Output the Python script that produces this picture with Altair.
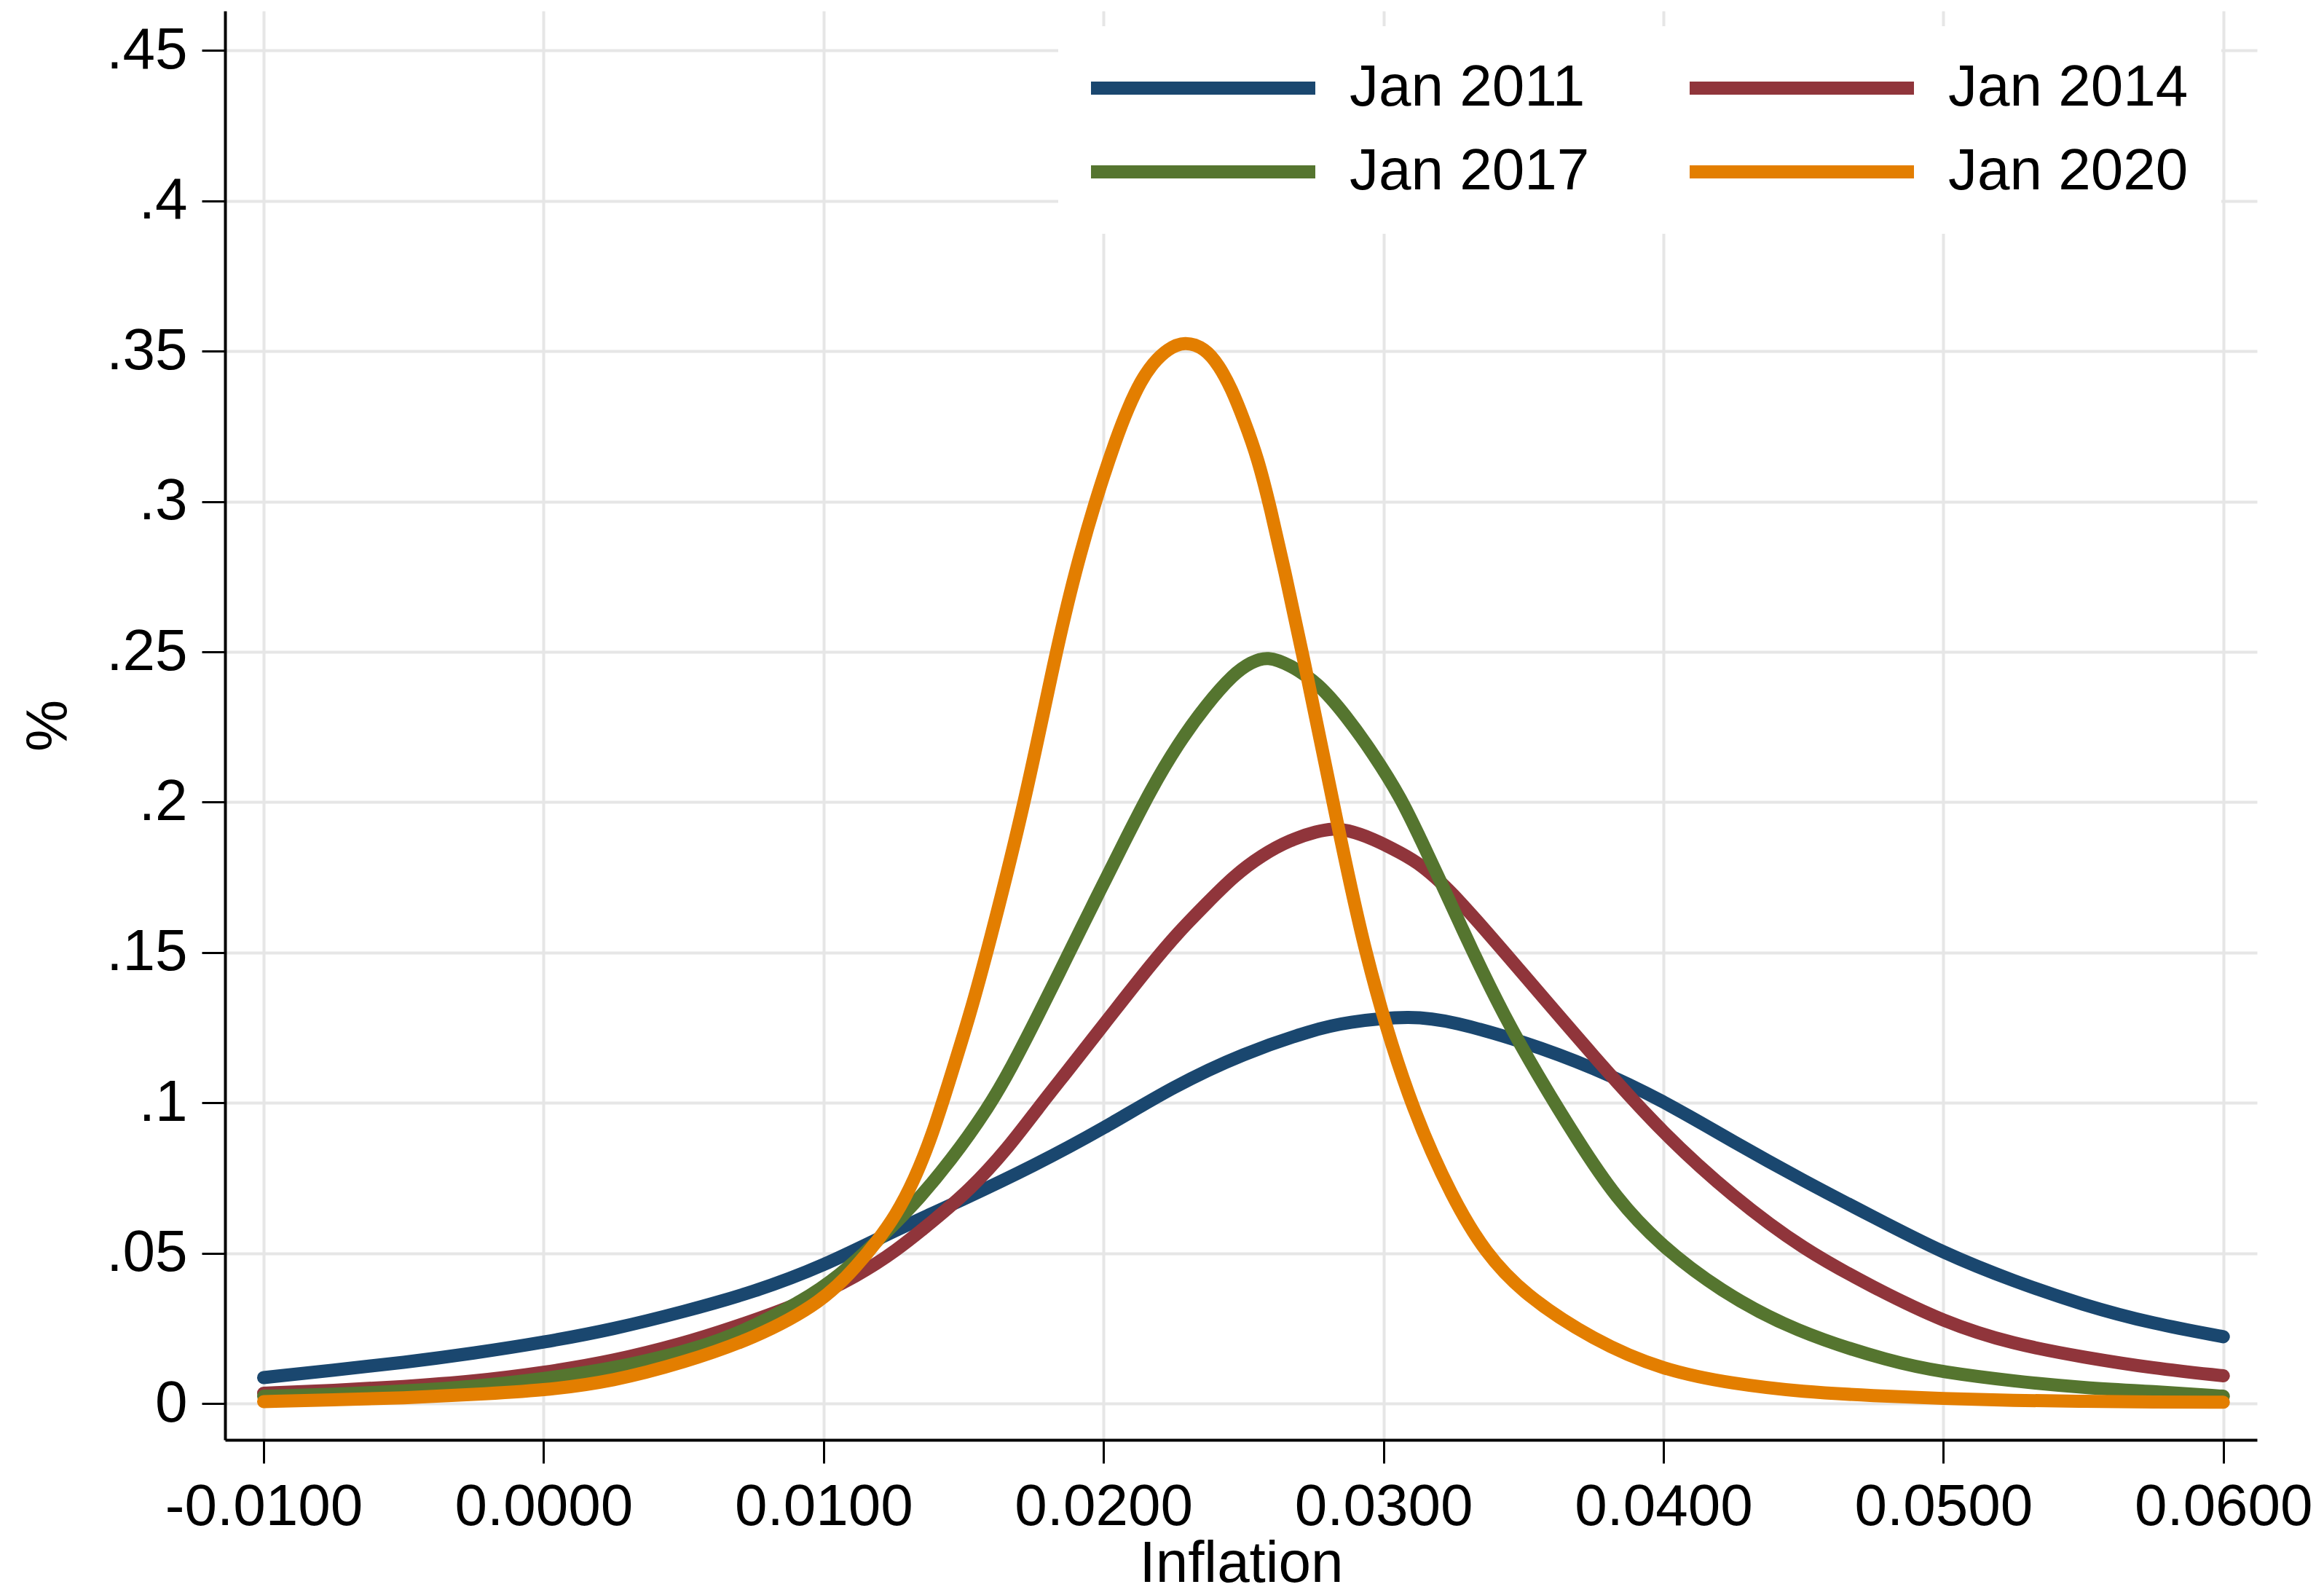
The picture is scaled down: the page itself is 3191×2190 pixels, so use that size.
import altair as alt
import pandas as pd

# ---- data (inflation, density) ----
x_2011 = [-0.01, -0.0075, -0.005, -0.0025, 0.0, 0.0025, 0.005, 0.0075, 0.01, 0.0125,
          0.015, 0.0175, 0.02, 0.0225, 0.025, 0.0275, 0.02865, 0.031, 0.0325, 0.035, 0.0375,
          0.04, 0.0425, 0.045, 0.0475, 0.05, 0.0525, 0.055, 0.0575, 0.06]
y_2011 = [0.0086, 0.0111, 0.0136, 0.0167, 0.0203, 0.0247, 0.0305, 0.0370, 0.0457, 0.0574,
          0.0679, 0.0790, 0.0914, 0.1055, 0.1165, 0.1243, 0.1268, 0.1291, 0.1270, 0.1204, 0.1118,
          0.1007, 0.0870, 0.0741, 0.0620, 0.0500, 0.0407, 0.0327, 0.0265, 0.0222]

x_2014 = [-0.01, -0.0075, -0.005, -0.0025, 0.0, 0.0025, 0.005, 0.0066, 0.00925, 0.01124,
          0.01257, 0.0139, 0.01522, 0.01655, 0.01769, 0.01869, 0.01968, 0.02068, 0.02168,
          0.02267, 0.02367, 0.02466, 0.02566, 0.02665, 0.02765, 0.0282, 0.02865, 0.02964,
          0.03064, 0.03131, 0.0325, 0.035, 0.0375, 0.04, 0.0425, 0.045, 0.0475, 0.05,
          0.0525, 0.055, 0.0575, 0.06]
y_2014 = [0.0034, 0.0043, 0.0056, 0.0073, 0.0102, 0.0141, 0.0200, 0.0247, 0.0333, 0.0426,
          0.0506, 0.0606, 0.0710, 0.0845, 0.0986, 0.1103, 0.1221, 0.1340, 0.1458,
          0.1567, 0.1662, 0.1755, 0.1824, 0.1874, 0.1904, 0.1912, 0.1909, 0.1879,
          0.1830, 0.1795, 0.1699, 0.1427, 0.1155, 0.0896, 0.0686, 0.0512, 0.0386, 0.0271,
          0.0197, 0.0154, 0.0117, 0.0092]

x_2017 = [-0.01, -0.0075, -0.005, -0.0025, 0.0, 0.0025, 0.005, 0.0066, 0.00925, 0.01058,
          0.0119, 0.01323, 0.01456, 0.01588, 0.0167, 0.01769, 0.01869, 0.01968, 0.02068,
          0.02168, 0.02267, 0.02367, 0.02466, 0.02526, 0.02586, 0.02665, 0.02765, 0.02865,
          0.02964, 0.03064, 0.03131, 0.0319, 0.0332, 0.0343, 0.0355, 0.03696, 0.03828,
          0.03989, 0.042, 0.04466, 0.04822, 0.05, 0.0525, 0.055, 0.0575, 0.06]
y_2017 = [0.0024, 0.0030, 0.0041, 0.0056, 0.0082, 0.0116, 0.0172, 0.0216, 0.0339, 0.0426,
          0.0538, 0.0661, 0.0809, 0.0982, 0.1115, 0.1295, 0.1484, 0.1670, 0.1856,
          0.2040, 0.2195, 0.2324, 0.2428, 0.2465, 0.2486, 0.2457, 0.2398, 0.2289,
          0.2161, 0.2012, 0.1880, 0.1765, 0.1500, 0.1291, 0.1093, 0.0871, 0.0686,
          0.0526, 0.0376, 0.0240, 0.0136, 0.0104, 0.0074, 0.0052, 0.0040, 0.0024]

x_2020 = [-0.01, -0.0075, -0.005, -0.0025, 0.0, 0.0025, 0.005, 0.0075, 0.01, 0.01124,
          0.0119, 0.01257, 0.01323, 0.0139, 0.01456, 0.01522, 0.01588, 0.0172, 0.0183,
          0.019, 0.0197, 0.02044, 0.02088, 0.02133, 0.02178, 0.02228, 0.0229, 0.02363,
          0.02412, 0.02457, 0.02502, 0.02552, 0.02597, 0.02646, 0.0271, 0.0282, 0.0293,
          0.0309, 0.0325, 0.03365, 0.035, 0.0375, 0.04, 0.0425, 0.045, 0.0475, 0.05,
          0.0525, 0.055, 0.0575, 0.06]
y_2020 = [0.0006, 0.0012, 0.0018, 0.0030, 0.0043, 0.0074, 0.0136, 0.0215, 0.0339, 0.0463,
          0.0538, 0.0624, 0.0740, 0.0896, 0.1093, 0.1291, 0.1514, 0.2000, 0.2500,
          0.2771, 0.3000, 0.3207, 0.3312, 0.3401, 0.3462, 0.3507, 0.3534, 0.3510,
          0.3453, 0.3376, 0.3271, 0.3142, 0.2975, 0.2775, 0.2500, 0.2000, 0.1500,
          0.1000, 0.0675, 0.0500, 0.0364, 0.0210, 0.0110, 0.0065, 0.0038, 0.0026, 0.0016,
          0.0010, 0.0007, 0.0005, 0.0004]

series_names = ["Jan 2011", "Jan 2014", "Jan 2017", "Jan 2020"]
series_x = [x_2011, x_2014, x_2017, x_2020]
series_y = [y_2011, y_2014, y_2017, y_2020]
series_colors = ["#1a476f", "#90353b", "#55752f", "#e37e00"]

x_ticks = [-0.01, 0.0, 0.01, 0.02, 0.03, 0.04, 0.05, 0.06]
y_ticks = [0.0, 0.05, 0.1, 0.15, 0.2, 0.25, 0.3, 0.35, 0.4, 0.45]

rows = []
for name, xs, ys in zip(series_names, series_x, series_y):
    for xv, yv in zip(xs, ys):
        rows.append({"Inflation": xv, "density": yv, "series": name})
df = pd.DataFrame(rows)

FONT = "Liberation Sans"

chart = alt.Chart(df).mark_line(
    strokeWidth=18, strokeCap="round", strokeJoin="round", interpolate="basis"
).encode(
    x=alt.X(
        "Inflation:Q",
        scale=alt.Scale(domain=[-0.011379, 0.061203], nice=False, zero=False),
        axis=alt.Axis(
            values=x_ticks,
            title="Inflation",
            labelExpr="(datum.value < 0 ? '-' : '') + format(abs(datum.value), '.4f')",
            labelPadding=21,
            titleY=194,
            titleBaseline="alphabetic",
        ),
    ),
    y=alt.Y(
        "density:Q",
        scale=alt.Scale(domain=[-0.01211, 0.46318], nice=False, zero=False),
        axis=alt.Axis(
            values=y_ticks,
            title="%",
            labelExpr="datum.value == 0 ? '0' : substring(format(datum.value, '.2~f'), 1)",
            labelPadding=20,
            titlePadding=37,
        ),
    ),
    color=alt.Color(
        "series:N",
        scale=alt.Scale(domain=series_names, range=series_colors),
        legend=alt.Legend(
            orient="none",
            direction="horizontal",
            legendX=1144,
            legendY=21,
            columns=2,
            title=None,
            symbolType="M-15.4,0L15.4,0",
            symbolSize=400,
            symbolStrokeWidth=18,
            symbolOffset=114,
            labelOffset=161,
            columnPadding=101,
            rowPadding=35,
            padding=45,
            fillColor="white",
            labelFont=FONT,
            labelFontSize=80,
            labelColor="black",
            labelLimit=2000,
        ),
    ),
    detail="series:N",
).properties(
    width=2790,
    height=1962,
    autosize=alt.AutoSizeParams(type="none"),
    padding={"left": 309, "top": 15, "right": 92, "bottom": 213},
    background="white",
).configure_view(
    stroke="transparent"
).configure_axis(
    labelFont=FONT,
    titleFont=FONT,
    labelFontSize=80,
    titleFontSize=80,
    titleFontWeight="normal",
    labelColor="black",
    titleColor="black",
    domainColor="black",
    domainWidth=4,
    tickColor="black",
    tickWidth=3,
    tickSize=32,
    gridColor="#e6e6e6",
    gridWidth=4,
    labelLimit=2000,
    labelOverlap=False,
    labelFlush=False,
    labelBound=False,
)

chart.save("out.html", embed_options={"renderer": "svg", "actions": False})
